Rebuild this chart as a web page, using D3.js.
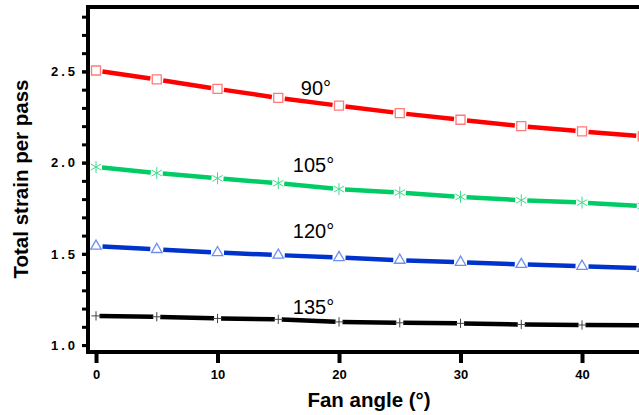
<!DOCTYPE html>
<html>
<head>
<meta charset="utf-8">
<script src="https://cdn.jsdelivr.net/npm/d3@7"></script>
<style>
  html, body { margin: 0; padding: 0; background: #fff; }
  svg { display: block; font-family: Arial, "Liberation Sans", sans-serif; }
</style>
</head>
<body>
<div id="d3-container"></div>
<script>
/* CONSTANTS AND GLOBALS */
const width = 639,
  height = 415;

// fan angle (deg) on x, one series per die angle
const fanAngles = [0, 5, 10, 15, 20, 25, 30, 35, 40, 45];
const strain90 = [2.505, 2.456, 2.404, 2.355, 2.312, 2.271, 2.235, 2.200, 2.171, 2.144];
const strain105 = [1.976, 1.943, 1.914, 1.887, 1.855, 1.836, 1.812, 1.794, 1.781, 1.762];
const strain120 = [1.542, 1.524, 1.507, 1.493, 1.480, 1.465, 1.454, 1.442, 1.432, 1.421];
const strain135 = [1.160, 1.155, 1.146, 1.141, 1.127, 1.122, 1.119, 1.113, 1.110, 1.108];

const seriesNames = ["90°", "105°", "120°", "135°"];
// where each curve label sits, in data units (x, y of baseline)
const labelX = [18.1, 17.9, 17.9, 17.9];
const labelY = [2.368, 1.947, 1.586, 1.170];

const xTicks = [0, 10, 20, 30, 40];
const yMajorTicks = [1.0, 1.5, 2.0, 2.5];
const yMinorTicks = [1.0, 1.1, 1.2, 1.3, 1.4, 1.5, 1.6, 1.7, 1.8, 1.9, 2.0, 2.1, 2.2, 2.3, 2.4, 2.5, 2.6, 2.7, 2.8];

const styles = [
  { line: "#ff0000", marker: "#ff7a7a", shape: "square", gap: 6.5 },
  { line: "#00cc66", marker: "#3fdc8a", shape: "asterisk", gap: 6 },
  { line: "#0033cc", marker: "#6f8ff0", shape: "triangle", gap: 6.5 },
  { line: "#000000", marker: "#444444", shape: "plus", gap: 3.5 }
];

let svg, xScale, yScale;

init();

function init() {
  const series = [strain90, strain105, strain120, strain135].map((vals, i) => ({
    name: seriesNames[i],
    style: styles[i],
    points: fanAngles.map((a, j) => ({ x: a, y: vals[j] }))
  }));

  // + SCALES  (the plot runs off the right edge of the page)
  xScale = d3.scaleLinear()
    .domain([-0.66, 47])
    .range([88, 88 + 47.66 * 12.15]);
  yScale = d3.scaleLinear()
    .domain([0.962, 2.853])
    .range([352, 7]);

  svg = d3.select("#d3-container")
    .append("svg")
    .attr("width", width)
    .attr("height", height);

  // + AXES
  const xAxis = d3.axisBottom(xScale)
    .tickValues(xTicks)
    .tickSize(11)
    .tickPadding(7)
    .tickFormat(d3.format("d"));

  const xAxisGroup = svg.append("g")
    .attr("class", "xAxis")
    .attr("transform", `translate(0, ${yScale.range()[0]})`)
    .call(xAxis);
  xAxisGroup.select(".domain").remove();
  xAxisGroup.selectAll(".tick line").attr("stroke-width", 4).attr("stroke", "#000");

  const yAxisMinor = d3.axisLeft(yScale)
    .tickValues(yMinorTicks)
    .tickSize(6)
    .tickFormat("");
  const yMinorGroup = svg.append("g")
    .attr("transform", `translate(${xScale.range()[0]}, 0)`)
    .call(yAxisMinor);
  yMinorGroup.select(".domain").remove();
  yMinorGroup.selectAll(".tick line").attr("stroke-width", 3).attr("stroke", "#000");

  const yAxis = d3.axisLeft(yScale)
    .tickValues(yMajorTicks)
    .tickSize(6)
    .tickPadding(4)
    .tickFormat(d3.format(".1f"));
  const yAxisGroup = svg.append("g")
    .attr("class", "yAxis")
    .attr("transform", `translate(${xScale.range()[0]}, 0)`)
    .call(yAxis);
  yAxisGroup.select(".domain").remove();
  yAxisGroup.selectAll(".tick line").attr("stroke-width", 3).attr("stroke", "#000");

  svg.selectAll(".xAxis text, .yAxis text")
    .attr("font-family", "Arial, 'Liberation Sans', sans-serif")
    .attr("font-size", 13)
    .attr("font-weight", "bold")
    .attr("fill", "#000");
  // the y labels are set wide
  yAxisGroup.selectAll("text").attr("letter-spacing", "3px");

  // frame: left and bottom axis lines plus the top border
  const x0 = xScale.range()[0], x1 = xScale.range()[1];
  const yb = yScale.range()[0], yt = yScale.range()[1];
  svg.append("path")
    .attr("d", `M${x1},${yt}H${x0}V${yb}H${x1}`)
    .attr("fill", "none")
    .attr("stroke", "#000")
    .attr("stroke-width", 4)
    .attr("stroke-linejoin", "miter");

  // + SERIES: line segments stop short of each marker
  series.forEach(s => {
    const g = svg.append("g").attr("class", "series");
    const px = s.points.map(p => [xScale(p.x), yScale(p.y)]);

    const segs = d3.pairs(px).map(([a, b]) => {
      const dx = b[0] - a[0], dy = b[1] - a[1];
      const len = Math.hypot(dx, dy);
      const ux = dx / len, uy = dy / len;
      return [a[0] + ux * s.style.gap, a[1] + uy * s.style.gap,
              b[0] - ux * s.style.gap, b[1] - uy * s.style.gap];
    });

    g.selectAll("line")
      .data(segs)
      .join("line")
      .attr("x1", d => d[0]).attr("y1", d => d[1])
      .attr("x2", d => d[2]).attr("y2", d => d[3])
      .attr("stroke", s.style.line)
      .attr("stroke-width", 4.5);

    const sym = d3.symbol();
    if (s.style.shape === "square") sym.type(d3.symbolSquare).size(81);
    if (s.style.shape === "triangle") sym.type(d3.symbolTriangle).size(48);
    if (s.style.shape === "asterisk") sym.type(d3.symbolAsterisk).size(100);
    if (s.style.shape === "plus") sym.type(d3.symbolPlus).size(30);

    const filled = s.style.shape === "square" || s.style.shape === "triangle";
    g.selectAll("path")
      .data(px)
      .join("path")
      .attr("transform", d => `translate(${d[0]}, ${d[1]})`)
      .attr("d", sym())
      .attr("fill", filled ? "#fff" : "none")
      .attr("stroke", s.style.marker)
      .attr("stroke-width", filled ? 1.3 : 1);
  });

  // curve labels
  svg.selectAll(".curveLabel")
    .data(seriesNames)
    .join("text")
    .attr("class", "curveLabel")
    .attr("x", (d, i) => xScale(labelX[i]))
    .attr("y", (d, i) => yScale(labelY[i]))
    .attr("text-anchor", "middle")
    .attr("font-size", 20)
    .attr("fill", "#000")
    .text(d => d);

  // axis titles
  svg.append("text")
    .attr("x", 369)
    .attr("y", 407)
    .attr("text-anchor", "middle")
    .attr("font-size", 20.5)
    .attr("font-weight", "bold")
    .text("Fan angle (°)");

  svg.append("text")
    .attr("transform", `translate(28, 179) rotate(-90)`)
    .attr("text-anchor", "middle")
    .attr("font-size", 20.5)
    .attr("font-weight", "bold")
    .text("Total strain per pass");
}
</script>
</body>
</html>
